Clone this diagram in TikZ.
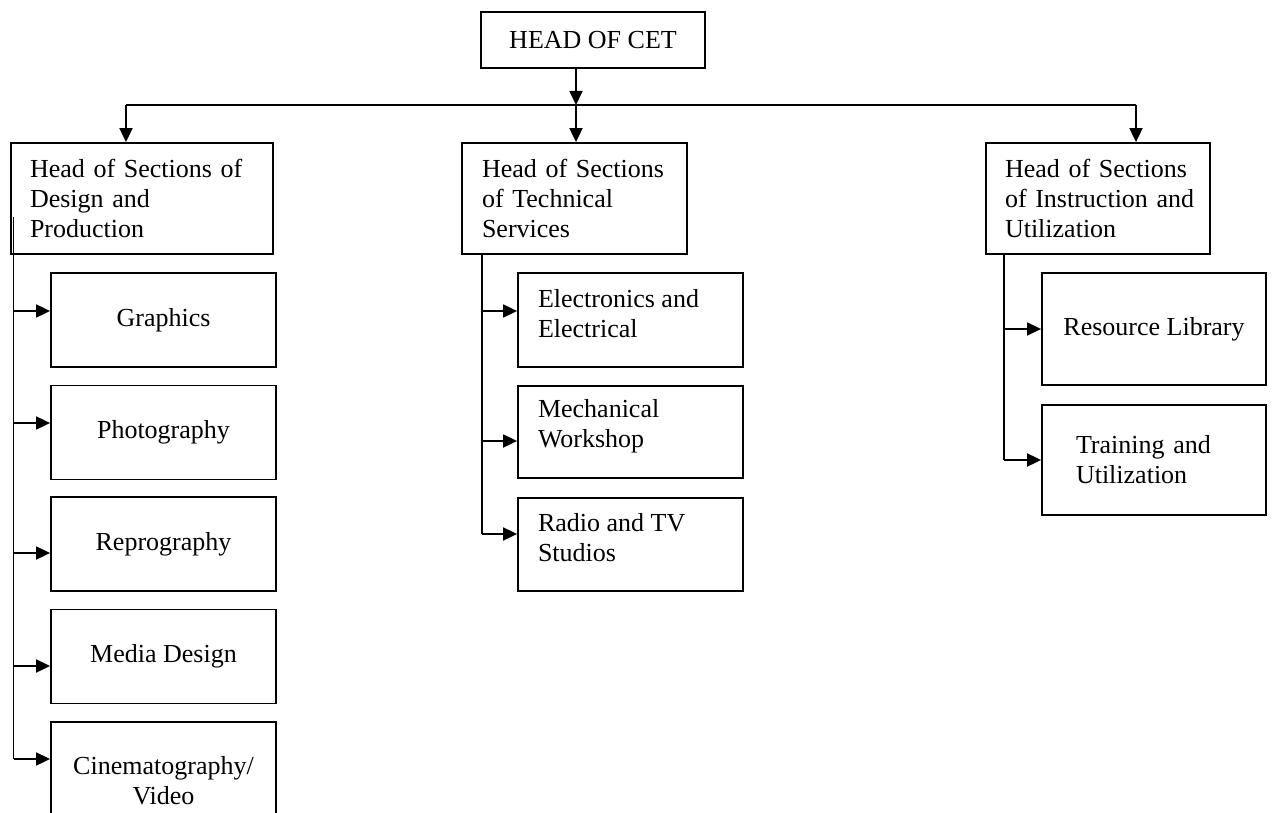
\documentclass[tikz,border=0pt]{standalone}
\usepackage{fontspec}
\setmainfont{Liberation Serif}
\usetikzlibrary{arrows.meta}
\begin{document}
\begin{tikzpicture}[x=1pt,y=-1pt,
  every node/.style={font=\fontsize{26}{30}\selectfont},
  box/.style={draw,line width=1.8pt,inner sep=0pt,minimum height=#1},
  lbox/.style={box=#1,align=left,inner xsep=20pt,text width=185pt},
  cbox/.style={box=#1,align=center,minimum width=225pt},
  lbl/.style={anchor=west,align=left,inner sep=0pt},
  arr/.style={-{Triangle[length=14pt,width=13pt]}},
  line width=1.8pt]
\clip (0,0) rectangle (1274,813);
% top
\node[box=56pt,minimum width=224pt] (top) at (593,40) {HEAD OF CET};
% heads of sections
\node[box=111pt,align=left,inner xsep=19pt,text width=224pt] (L) at (142,198.5) {\mbox{Head of Sections of}\\\mbox{Design and}\\\mbox{Production}};
\node[lbox=111pt] (M) at (574.5,198.5) {\mbox{Head of Sections}\\\mbox{of Technical}\\\mbox{Services}};
\node[box=111pt,align=left,inner xsep=19pt,text width=186pt] (R) at (1098,198.5) {\mbox{Head of Sections}\\\mbox{of Instruction and}\\\mbox{Utilization}};
% left children
\node[cbox=94pt] (G) at (163.5,320) {Graphics};
\node[cbox=94pt] (P) at (163.5,432.5) {Photography};
\node[cbox=94pt] (Rp) at (163.5,544) {Reprography};
\node[cbox=94pt] (MD) at (163.5,656.5) {Media Design};
\node[cbox=118pt] (C) at (163.5,781) {Cinematography/\\Video};
% middle children
\node[cbox=94pt] (E) at (630.5,320) {};
\node[lbl] (Et) at ([xshift=20pt,yshift=6pt]E.west) {Electronics and\\Electrical};
\node[cbox=92pt] (MW) at (630.5,432) {};
\node[lbl] (MWt) at ([xshift=20pt,yshift=6pt]MW.west) {Mechanical\\Workshop};
\node[cbox=93pt] (RT) at (630.5,544.5) {};
\node[lbl] (RTt) at ([xshift=20pt,yshift=7pt]RT.west) {Radio and TV\\Studios};
% right children
\node[cbox=112pt,minimum width=224pt] (RL) at (1154,329) {Resource Library};
\node[box=110pt,align=left,inner xsep=34pt,text width=156pt] (TU) at (1154,460) {\mbox{Training and}\\\mbox{Utilization}};
% junctions
\coordinate (jl) at (126,105);
\coordinate (jm) at (576,105);
\coordinate (jr) at (1136,105);
\draw[arr] (top.south -| jm) -- (jm);
\draw (jl) -- (jr);
\draw[arr] (jl) -- (jl |- L.north);
\draw[arr] (jm) -- (jm |- M.north);
\draw[arr] (jr) -- (jr |- R.north);
% arrow entry points
\coordinate (aG) at ([yshift=9pt]G.west);
\coordinate (aP) at ([yshift=9.5pt]P.west);
\coordinate (aRp) at ([yshift=-9pt]Rp.west);
\coordinate (aMD) at ([yshift=-9.5pt]MD.west);
\coordinate (aE) at ([yshift=9pt]E.west);
\coordinate (aMW) at ([yshift=-9pt]MW.west);
% left trunk
\coordinate (lt) at (13.5,217);
\coordinate (lb) at (13.5,759);
\draw (lt) -- (lb);
\draw[arr] (lt |- aG) -- (aG);
\draw[arr] (lt |- aP) -- (aP);
\draw[arr] (lt |- aRp) -- (aRp);
\draw[arr] (lt |- aMD) -- (aMD);
\draw[arr] (lb) -- (lb -| C.west);
% middle trunk
\coordinate (mt) at (482,0);
\coordinate (mb) at (482,534);
\draw (mt |- M.south) -- (mb);
\draw[arr] (mt |- aE) -- (aE);
\draw[arr] (mt |- aMW) -- (aMW);
\draw[arr] (mb) -- (mb -| RT.west);
% right trunk
\coordinate (rt) at (1004,0);
\coordinate (rb) at (1004,460);
\draw (rt |- R.south) -- (rb);
\draw[arr] (rt |- RL.west) -- (RL.west);
\draw[arr] (rb) -- (rb -| TU.west);
\end{tikzpicture}
\end{document}
